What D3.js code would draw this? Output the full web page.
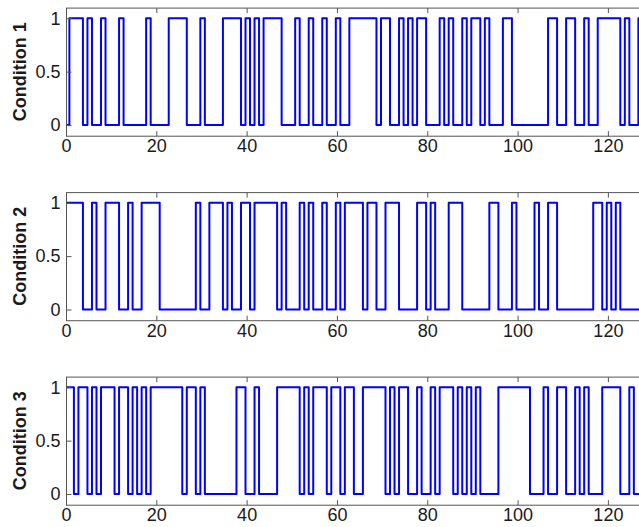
<!DOCTYPE html>
<html>
<head>
<meta charset="utf-8">
<script src="https://cdn.jsdelivr.net/npm/d3@7"></script>
<style>
  html, body { margin: 0; padding: 0; background: #fff; }
  svg { display: block; }
</style>
</head>
<body>
<svg id="chart" width="639" height="527"></svg>
<script>
// ---- data ----
const conditionNames = ["Condition 1", "Condition 2", "Condition 3"];
const startStates = [0, 1, 1];
// times (x units) where each binary signal toggles
const switches1 = [0.75,3.75,4.75,5.75,7.75,8.75,11.75,12.75,17.75,18.75,22.75,26.75,29.75,30.75,34.75,38.75,39.75,40.75,41.75,42.75,43.75,47.75,50.75,51.75,53.75,54.75,56.75,57.75,59.75,60.75,62.75,68.75,69.75,71.75,73.75,74.75,75.75,76.75,77.75,79.75,82.75,83.75,84.75,85.75,87.75,88.75,89.75,91.75,92.75,93.75,96.75,98.75,106.75,108.75,110.75,112.75,114.75,115.75,117.75,122.75,123.75,124.75,126.75];
const switches2 = [3.75,5.75,6.75,8.75,11.75,13.75,14.75,16.75,20.75,28.75,29.75,31.75,34.75,35.75,36.75,38.75,40.75,41.75,46.75,47.75,48.75,51.75,52.75,53.75,54.75,56.75,57.75,59.75,60.75,61.75,65.75,66.75,68.75,70.75,73.75,77.75,79.75,80.75,81.75,84.75,87.75,93.75,95.75,98.75,99.75,103.75,104.75,106.75,108.75,116.75,118.75,119.75,120.75,121.75,122.75];
const switches3 = [1.75,2.75,4.75,5.75,6.75,7.75,10.75,11.75,13.75,14.75,15.75,16.75,17.75,18.75,25.75,26.75,28.75,29.75,30.75,37.75,39.75,41.75,42.75,46.75,51.75,52.75,53.75,54.75,57.75,58.75,60.75,61.75,63.75,65.75,70.75,71.75,72.75,73.75,75.75,77.75,78.75,80.75,81.75,82.75,85.75,86.75,87.75,88.75,89.75,90.75,91.75,95.75,102.75,105.75,106.75,108.75,110.75,112.75,113.75,114.75,115.75,118.75,122.75,124.75,125.75];
const switchLists = [switches1, switches2, switches3];
const xDomain = [0, 127];
const yDomain = [-0.1, 1.1];
const xTicks = [0, 20, 40, 60, 80, 100, 120];
const yTicks = [0, 0.5, 1];
const yTickLabels = ["0", "0.5", "1"];

// ---- layout ----
const svg = d3.select("#chart");
const left = 66, right = 639.5;
const panelTops = [7.6, 192.1, 376.6];
const panelH = 128.1;
const axisColor = "#555";
const textColor = "#1a1a1a";
const font = "'Liberation Sans', Arial, Helvetica, sans-serif";

const x = d3.scaleLinear().domain(xDomain).range([left, right]);

panelTops.forEach((top, i) => {
  const bottom = top + panelH;
  const y = d3.scaleLinear().domain(yDomain).range([bottom, top]);
  const g = svg.append("g");

  // signal as step line
  let s = startStates[i];
  const pts = [[xDomain[0], s]];
  switchLists[i].forEach(t => { s = 1 - s; pts.push([t, s]); });
  pts.push([xDomain[1], s]);
  const line = d3.line().x(d => x(d[0])).y(d => y(d[1])).curve(d3.curveStepAfter);

  const clipId = "clip" + i;
  g.append("clipPath").attr("id", clipId).append("rect")
    .attr("x", left).attr("y", top).attr("width", right - left).attr("height", panelH);

  g.append("path").datum(pts)
    .attr("clip-path", `url(#${clipId})`)
    .attr("d", line)
    .attr("fill", "none")
    .attr("stroke", "#0000ff")
    .attr("stroke-width", 2)
    .attr("stroke-linejoin", "round");

  // box
  g.append("rect")
    .attr("x", left + 0.5).attr("y", top + 0.5)
    .attr("width", right - left - 0.5).attr("height", panelH)
    .attr("fill", "none").attr("stroke", axisColor).attr("stroke-width", 1);

  // x axis (bottom) ticks inward + labels
  const xb = g.append("g").attr("transform", `translate(0,${bottom + 0.5})`)
    .call(d3.axisBottom(x).tickValues(xTicks).tickSize(-5).tickPadding(3.5).tickFormat(d3.format("d")));
  // top ticks
  const xt = g.append("g").attr("transform", `translate(0,${top + 0.5})`)
    .call(d3.axisTop(x).tickValues(xTicks).tickSize(-5).tickFormat(""));
  // y axis ticks inward + labels
  const yl = g.append("g").attr("transform", `translate(${left + 0.5},0)`)
    .call(d3.axisLeft(y).tickValues(yTicks).tickSize(-5).tickPadding(6)
      .tickFormat((d, j) => yTickLabels[j]));

  [xb, xt, yl].forEach(ax => {
    ax.select(".domain").remove();
    ax.selectAll(".tick line").attr("stroke", axisColor);
    ax.selectAll("text").attr("fill", textColor)
      .style("font-family", font).style("font-size", "18px");
  });

  // y label
  g.append("text")
    .attr("transform", `translate(26,${(top + bottom) / 2}) rotate(-90)`)
    .attr("text-anchor", "middle")
    .style("font-family", font).style("font-size", "18px").style("font-weight", "bold")
    .attr("fill", textColor)
    .text(conditionNames[i]);
});
</script>
</body>
</html>
